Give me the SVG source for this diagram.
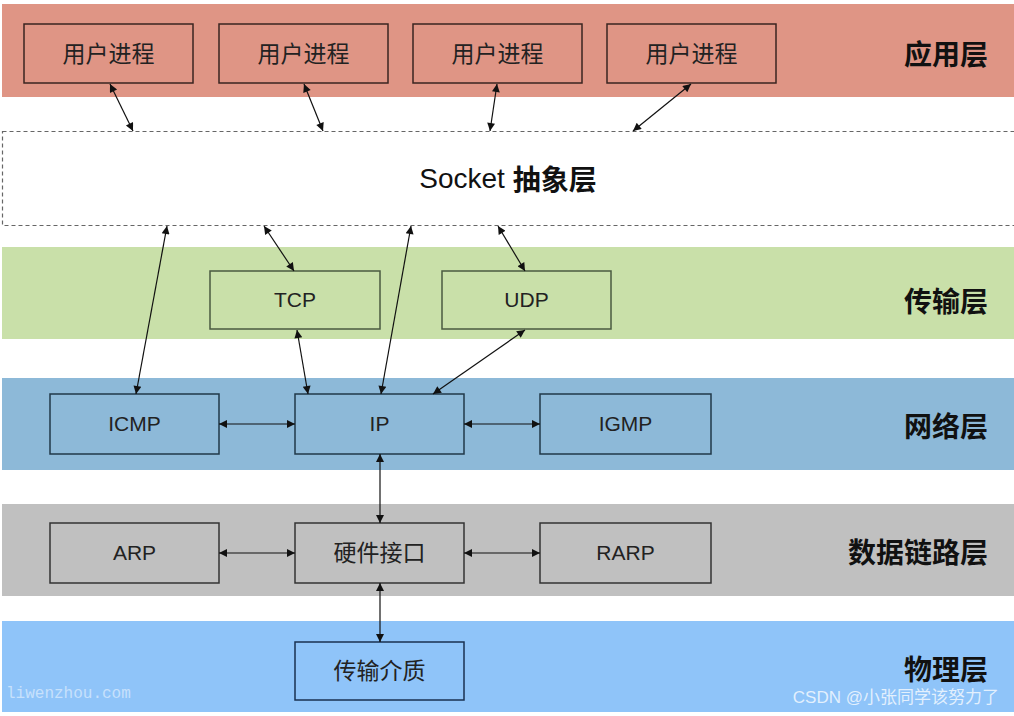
<svg xmlns="http://www.w3.org/2000/svg" width="1014" height="716" viewBox="0 0 1014 716">
<style>
.band{stroke:none}
.box{stroke-width:1.5}
.lbl{font-family:"Liberation Sans","Noto Sans CJK SC",sans-serif;font-size:21px;fill:#222;text-anchor:middle;dominant-baseline:central}
.cjk{font-family:"Noto Sans CJK SC",sans-serif;font-size:23px}
.layer{font-family:"Noto Sans CJK SC",sans-serif;font-size:28px;font-weight:bold;fill:#111;text-anchor:end;dominant-baseline:central}
.conn line{stroke:#111;stroke-width:1.2;marker-start:url(#ah);marker-end:url(#ah)}
</style>
<defs>
<marker id="ah" viewBox="0 0 10 10" refX="10" refY="5" markerWidth="11" markerHeight="8" markerUnits="userSpaceOnUse" orient="auto-start-reverse">
<path d="M0,0 L10,5 L0,10 z" fill="#111"/>
</marker>
</defs>
<rect width="1014" height="716" fill="#ffffff"/>
<g id="bands">
<rect class="band" x="2" y="4" width="1012" height="93" fill="#df9585"/>
<rect x="2.5" y="131.5" width="1020" height="94" fill="#ffffff" stroke="#666" stroke-width="1.2" stroke-dasharray="4,3"/>
<rect class="band" x="2" y="247" width="1012" height="92" fill="#c9e0a9"/>
<rect class="band" x="2" y="378" width="1012" height="92" fill="#8db9d8"/>
<rect class="band" x="2" y="504" width="1012" height="92" fill="#c0c0c0"/>
<rect class="band" x="2" y="621" width="1012" height="91" fill="#8fc4f9"/>
</g>
<g id="layer-labels">
<text class="layer" x="988" y="53">应用层</text>
<text x="508" y="178" font-family="Liberation Sans,'Noto Sans CJK SC',sans-serif" font-size="28" fill="#111" text-anchor="middle" dominant-baseline="central">Socket <tspan font-family="'Noto Sans CJK SC',sans-serif" font-weight="bold">抽象层</tspan></text>
<text class="layer" x="988" y="300">传输层</text>
<text class="layer" x="988" y="425">网络层</text>
<text class="layer" x="988" y="551">数据链路层</text>
<text class="layer" x="988" y="668">物理层</text>
</g>
<g id="proc1"><rect class="box" x="24" y="24" width="169" height="59" fill="#df9585" stroke="#3a2520"/><text class="lbl cjk" x="108.5" y="51.5">用户进程</text></g>
<g id="proc2"><rect class="box" x="219" y="24" width="169" height="59" fill="#df9585" stroke="#3a2520"/><text class="lbl cjk" x="303.5" y="51.5">用户进程</text></g>
<g id="proc3"><rect class="box" x="413" y="24" width="169" height="59" fill="#df9585" stroke="#3a2520"/><text class="lbl cjk" x="497.5" y="51.5">用户进程</text></g>
<g id="proc4"><rect class="box" x="607" y="24" width="169" height="59" fill="#df9585" stroke="#3a2520"/><text class="lbl cjk" x="691.5" y="51.5">用户进程</text></g>
<g id="tcp"><rect class="box" x="210" y="271" width="170" height="58" fill="#c9e0a9" stroke="#4a5a40"/><text class="lbl" x="295" y="299">TCP</text></g>
<g id="udp"><rect class="box" x="442" y="271" width="169" height="58" fill="#c9e0a9" stroke="#4a5a40"/><text class="lbl" x="526.5" y="299">UDP</text></g>
<g id="icmp"><rect class="box" x="50" y="394" width="169" height="60" fill="#8db9d8" stroke="#203848"/><text class="lbl" x="134.5" y="423">ICMP</text></g>
<g id="ip"><rect class="box" x="295" y="394" width="169" height="60" fill="#8db9d8" stroke="#203848"/><text class="lbl" x="379.5" y="423">IP</text></g>
<g id="igmp"><rect class="box" x="540" y="394" width="171" height="60" fill="#8db9d8" stroke="#203848"/><text class="lbl" x="625.5" y="423">IGMP</text></g>
<g id="arp"><rect class="box" x="50" y="523" width="169" height="60" fill="#c0c0c0" stroke="#333"/><text class="lbl" x="134.5" y="552">ARP</text></g>
<g id="hw"><rect class="box" x="295" y="523" width="169" height="60" fill="#c0c0c0" stroke="#333"/><text class="lbl cjk" x="379.5" y="551">硬件接口</text></g>
<g id="rarp"><rect class="box" x="540" y="523" width="171" height="60" fill="#c0c0c0" stroke="#333"/><text class="lbl" x="625.5" y="552">RARP</text></g>
<g id="medium"><rect class="box" x="295" y="642" width="169" height="58" fill="#8fc4f9" stroke="#1a3050"/><text class="lbl cjk" x="379.5" y="669">传输介质</text></g>
<g class="conn" id="connectors">
<line x1="110" y1="84" x2="133" y2="131"/>
<line x1="304" y1="84" x2="323" y2="131"/>
<line x1="497" y1="84" x2="490" y2="131"/>
<line x1="691" y1="84" x2="633" y2="131"/>
<line x1="167" y1="226" x2="136" y2="394"/>
<line x1="264" y1="226" x2="294" y2="271"/>
<line x1="411" y1="226" x2="381" y2="394"/>
<line x1="498" y1="226" x2="525" y2="271"/>
<line x1="297" y1="330" x2="308" y2="394"/>
<line x1="525" y1="330" x2="433" y2="394"/>
<line x1="219" y1="424" x2="295" y2="424"/>
<line x1="464" y1="424" x2="540" y2="424"/>
<line x1="380" y1="454" x2="380" y2="523"/>
<line x1="219" y1="553" x2="295" y2="553"/>
<line x1="464" y1="553" x2="540" y2="553"/>
<line x1="380" y1="583" x2="380" y2="642"/>
</g>
<g id="watermarks">
<text x="6" y="698" font-family="'Liberation Mono',monospace" font-size="16" fill="#ffffff" fill-opacity="0.5">liwenzhou.com</text>
<text x="999" y="703" font-family="'Liberation Sans','Noto Sans CJK SC',sans-serif" font-size="17" fill="#ffffff" fill-opacity="0.75" text-anchor="end">CSDN @小张同学该努力了</text>
</g>
</svg>
